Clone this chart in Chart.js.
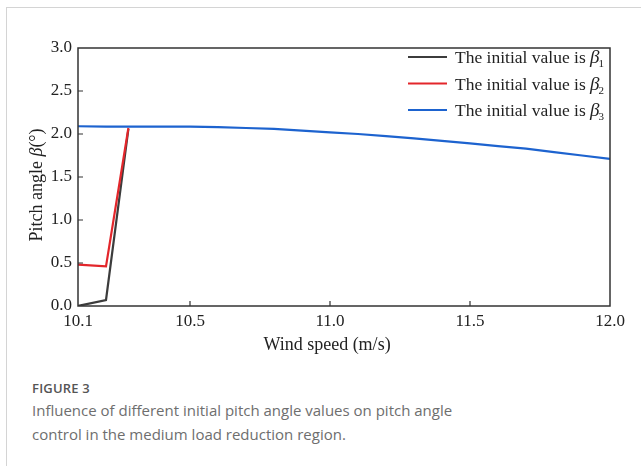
<!DOCTYPE html>
<html>
<head>
<meta charset="utf-8">
<script src="https://cdn.jsdelivr.net/npm/chart.js@4/dist/chart.umd.min.js"></script>
<style>
  html, body { margin: 0; padding: 0; background: #fff; width: 641px; height: 466px; overflow: hidden; }
  #frame { position: absolute; left: 6px; top: 7px; right: -2px; bottom: -2px; border-left: 1px solid #d4d4d4; border-top: 1px solid #d4d4d4; }
  #wrap { position: absolute; left: 0; top: 0; width: 641px; height: 360px; }
  .cap { position: absolute; left: 32px; font-family: "Open Sans", "Noto Sans", sans-serif; color: #6e6e6e; }
  #fig { top: 379px; font-size: 13px; font-weight: 600; color: #555; letter-spacing: 0.2px; }
  #desc { top: 398px; font-size: 15px; line-height: 24px; width: 600px; font-weight: 400; }
</style>
</head>
<body>
<div id="frame"></div>
<div id="wrap"><canvas id="c" width="641" height="360"></canvas></div>
<div class="cap" id="fig">FIGURE 3</div>
<div class="cap" id="desc">Influence of different initial pitch angle values on pitch angle<br>control in the medium load reduction region.</div>
<script>
// Wind speed (m/s) and pitch angle (deg) for each initial value
const speedB1 = [10.1, 10.2, 10.28];
const pitchB1 = [0.0, 0.07, 2.06];

const speedB2 = [10.1, 10.2, 10.28];
const pitchB2 = [0.48, 0.46, 2.07];

const speedB3 = [10.1, 10.2, 10.3, 10.4, 10.5, 10.6, 10.7, 10.8, 10.9, 11.0,
                 11.1, 11.2, 11.3, 11.4, 11.5, 11.6, 11.7, 11.8, 11.9, 12.0];
const pitchB3 = [2.09, 2.085, 2.085, 2.085, 2.085, 2.08, 2.07, 2.06, 2.04, 2.02,
                 2.0, 1.975, 1.95, 1.92, 1.89, 1.86, 1.83, 1.79, 1.75, 1.71];

const seriesSubscripts = ['1', '2', '3'];
const xTickValues = [10.1, 10.5, 11.0, 11.5, 12.0];
const yTickValues = [0, 0.5, 1.0, 1.5, 2.0, 2.5, 3.0];

const SERIF = '"Liberation Serif", "Times New Roman", serif';
const pts = (xs, ys) => xs.map((x, i) => ({ x: x, y: ys[i] }));

// Frame, inward ticks, axis titles and legend
const decor = {
  id: 'decor',
  afterDraw(chart) {
    const ctx = chart.ctx;
    const a = chart.chartArea;
    const xs = chart.scales.x, ys = chart.scales.y;
    ctx.save();
    ctx.strokeStyle = '#333';
    ctx.lineWidth = 1.5;
    ctx.strokeRect(a.left, a.top, a.right - a.left, a.bottom - a.top);
    ctx.lineWidth = 1.2;
    ctx.beginPath();
    xTickValues.forEach(v => {
      const px = xs.getPixelForValue(v);
      if (px > a.left + 2 && px < a.right - 2) { ctx.moveTo(px, a.bottom); ctx.lineTo(px, a.bottom - 5); }
    });
    yTickValues.forEach(v => {
      const py = ys.getPixelForValue(v);
      if (py > a.top + 2 && py < a.bottom - 2) { ctx.moveTo(a.left, py); ctx.lineTo(a.left + 5, py); }
    });
    ctx.stroke();

    // x title
    ctx.fillStyle = '#222';
    ctx.font = '18px ' + SERIF;
    ctx.textAlign = 'center';
    ctx.textBaseline = 'middle';
    ctx.fillText('Wind speed (m/s)', (a.left + a.right) / 2 - 17, a.bottom + 39);

    // y title with italic beta
    const parts = [
      { t: 'Pitch angle ', f: '18px ' + SERIF },
      { t: 'β', f: 'italic 18px ' + SERIF },
      { t: '(°)', f: '18px ' + SERIF }
    ];
    let total = 0;
    parts.forEach(p => { ctx.font = p.f; p.w = ctx.measureText(p.t).width; total += p.w; });
    ctx.translate(37, (a.top + a.bottom) / 2 + 8);
    ctx.rotate(-Math.PI / 2);
    ctx.textAlign = 'left';
    let cx = -total / 2;
    parts.forEach(p => { ctx.font = p.f; ctx.fillText(p.t, cx, 0); cx += p.w; });
    ctx.setTransform(1, 0, 0, 1, 0, 0);

    // legend
    chart.data.datasets.forEach((ds, i) => {
      const y = a.top + 9 + i * 26.5;
      const lx0 = a.right - 202, lx1 = a.right - 163;
      ctx.strokeStyle = ds.borderColor;
      ctx.lineWidth = 2.2;
      ctx.beginPath(); ctx.moveTo(lx0, y); ctx.lineTo(lx1, y); ctx.stroke();
      ctx.fillStyle = '#222';
      ctx.textAlign = 'left';
      ctx.textBaseline = 'alphabetic';
      let tx = a.right - 155;
      const base = y + 6;
      ctx.font = '17.5px ' + SERIF;
      ctx.fillText(ds.label, tx, base);
      tx += ctx.measureText(ds.label).width;
      ctx.font = 'italic 19px ' + SERIF;
      ctx.fillText('β', tx, base);
      tx += ctx.measureText('β').width - 1;
      ctx.font = '11px ' + SERIF;
      ctx.fillText(seriesSubscripts[i], tx, base + 4);
    });
    ctx.restore();
  }
};

new Chart(document.getElementById('c'), {
  type: 'line',
  data: {
    datasets: [
      { label: 'The initial value is ', data: pts(speedB1, pitchB1), borderColor: '#3c3c3c', order: 2 },
      { label: 'The initial value is ', data: pts(speedB2, pitchB2), borderColor: '#e3262b', order: 1 },
      { label: 'The initial value is ', data: pts(speedB3, pitchB3), borderColor: '#1d63cf', order: 0 }
    ]
  },
  options: {
    responsive: false,
    devicePixelRatio: 1,
    animation: false,
    layout: { padding: { left: 0, top: 48, right: 31, bottom: 0 } },
    elements: {
      line: { borderWidth: 2.2, tension: 0, fill: false },
      point: { radius: 0 }
    },
    plugins: { legend: { display: false }, tooltip: { enabled: false } },
    scales: {
      x: {
        type: 'linear', min: 10.1, max: 12.0,
        afterBuildTicks: s => { s.ticks = xTickValues.map(v => ({ value: v })); },
        afterFit: s => { s.height = 54; },
        grid: { display: false, drawTicks: false, tickLength: 0 },
        border: { display: false },
        ticks: { padding: 5, color: '#222', font: { family: SERIF, size: 17 },
                 maxRotation: 0, autoSkip: false, callback: v => Number(v).toFixed(1) }
      },
      y: {
        type: 'linear', min: 0, max: 3,
        afterBuildTicks: s => { s.ticks = yTickValues.map(v => ({ value: v })); },
        afterFit: s => { s.width = 78; },
        grid: { display: false, drawTicks: false, tickLength: 0 },
        border: { display: false },
        ticks: { padding: 6, color: '#222', font: { family: SERIF, size: 17 },
                 callback: v => Number(v).toFixed(1) }
      }
    }
  },
  plugins: [decor]
});
</script>
</body>
</html>
